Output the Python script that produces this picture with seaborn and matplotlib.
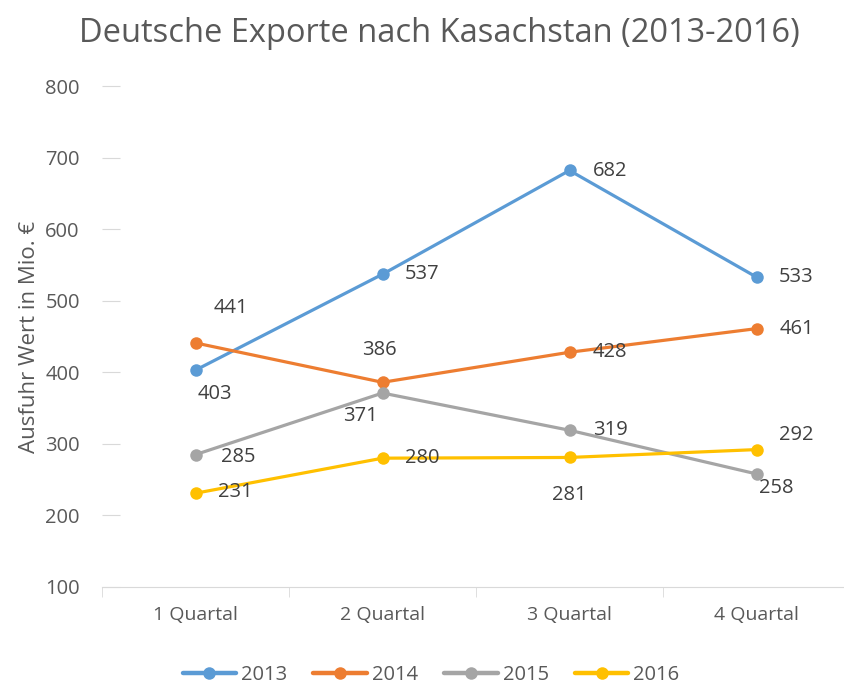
import matplotlib
matplotlib.use("Agg")
import matplotlib.pyplot as plt
import seaborn as sns
import pandas as pd

quarters = ["1 Quartal", "2 Quartal", "3 Quartal", "4 Quartal"]
years = ["2013", "2014", "2015", "2016"]
exports_2013 = [403, 537, 682, 533]
exports_2014 = [441, 386, 428, 461]
exports_2015 = [285, 371, 319, 258]
exports_2016 = [231, 280, 281, 292]
colors = ["#5B9BD5", "#ED7D31", "#A5A5A5", "#FFC000"]

# label offsets in pixels (dx, dy) per series / quarter
label_offsets = {
    "2013": [(19, -24), (40, 0), (41, -1), (40, 0)],
    "2014": [(35, 35), (-3, 32), (40, 0), (40, 0)],
    "2015": [(43, -2), (-22, -23), (41, 0), (20, -14)],
    "2016": [(40, 1), (40, 0), (0, -38), (40, 15)],
}

df = pd.DataFrame({
    "quarter": quarters * 4,
    "year": [y for y in years for _ in quarters],
    "value": exports_2013 + exports_2014 + exports_2015 + exports_2016,
})

sns.set_style("white")
plt.rcParams["font.family"] = ["Open Sans", "DejaVu Sans"]

fig = plt.figure(figsize=(8.44, 6.84), dpi=100)
ax = fig.add_axes([102 / 844, (684 - 587) / 684, 748 / 844, (587 - 86) / 684])

sns.lineplot(data=df, x="quarter", y="value", hue="year", palette=colors,
             marker="o", markersize=9, markeredgewidth=0, linewidth=2.3,
             sort=False, ax=ax)

for year in years:
    sub = df[df["year"] == year].reset_index(drop=True)
    for i, row in sub.iterrows():
        dx, dy = label_offsets[year][i]
        ax.annotate(str(row["value"]), (i, row["value"]),
                    xytext=(dx * 0.72, dy * 0.72), textcoords="offset points",
                    ha="center", va="center", fontsize=14.5, color="#404040")

ax.set_xlim(-0.5, 3.5)
ax.set_ylim(100, 800)
ax.set_yticks(range(100, 801, 100))
ax.set_xticks([-0.5, 0.5, 1.5, 2.5, 3.5], minor=True)
ax.set_xlabel("")
ax.set_ylabel("Ausfuhr Wert in Mio. €", fontsize=16, color="#595959", labelpad=4)
ax.tick_params(axis="y", labelsize=14.5, labelcolor="#595959", length=13,
               direction="in", color="#d9d9d9", left=True, pad=16)
ax.tick_params(axis="x", which="major", labelsize=14, labelcolor="#595959",
               length=0, pad=14)
ax.tick_params(axis="x", which="minor", length=7, color="#d9d9d9",
               direction="out", bottom=True)
for side in ["top", "right", "left"]:
    ax.spines[side].set_visible(False)
ax.spines["bottom"].set_color("#d9d9d9")

fig.text(439 / 844, 1 - 33 / 684, "Deutsche Exporte nach Kasachstan (2013-2016)",
         ha="center", va="center", fontsize=23.5, color="#595959")

handles, labels = ax.get_legend_handles_labels()
for h in handles:
    h.set_linewidth(3.2)
ax.legend(handles, labels, loc="center", bbox_to_anchor=(431 / 844, 1 - 675 / 684),
          bbox_transform=fig.transFigure, ncol=4, frameon=False,
          fontsize=14.5, labelcolor="#595959", handlelength=2.65,
          columnspacing=1.3, handletextpad=0.25)

fig.savefig("out.png", dpi=100)
